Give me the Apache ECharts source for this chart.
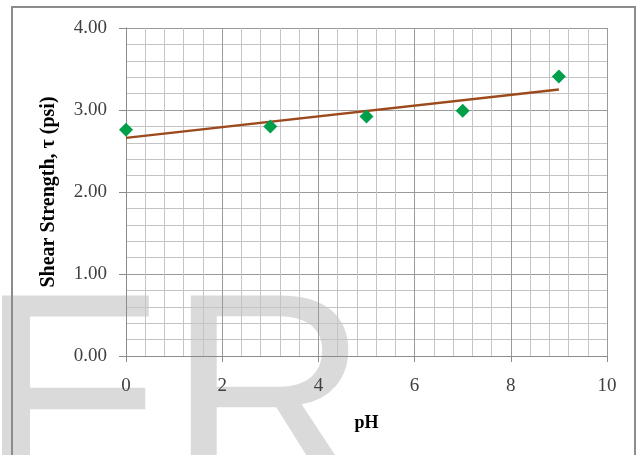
<!DOCTYPE html>
<html>
<head>
<meta charset="utf-8">
<script src="https://cdn.jsdelivr.net/npm/echarts@6/dist/echarts.min.js"></script>
<style>
html,body{margin:0;padding:0;background:#fff;}
#chart{width:641px;height:455px;}
</style>
</head>
<body>
<div id="chart"></div>
<script>
// Data
const phValues = [0, 3, 5, 7, 9];
const shearStrength = [2.76, 2.80, 2.92, 2.99, 3.41];
const trendPh = [0, 9];
const trendStrength = [2.66, 3.25];
const xTickValues = [0, 2, 4, 6, 8, 10];
const yTickLabels = ['0.00', '1.00', '2.00', '3.00', '4.00'];
const xAxisTitle = 'pH';
const yAxisTitle = 'Shear Strength, \u03c4 (psi)';
const watermarkLetters = ['F', 'R'];

const points = phValues.map((x, i) => [x, shearStrength[i]]);
const trend = trendPh.map((x, i) => [x, trendStrength[i]]);

const chart = echarts.init(document.getElementById('chart'), null, {renderer: 'canvas'});
const serif = '"Liberation Serif", "Times New Roman", serif';
const wmFont = '278px "Liberation Sans", Arial, sans-serif';
chart.setOption({
  animation: false,
  backgroundColor: '#ffffff',
  grid: {left: 126, right: 34, top: 28, bottom: 99, containLabel: false, outerBoundsMode: 'none'},
  xAxis: {
    type: 'value', min: 0, max: 10, interval: 2,
    name: xAxisTitle, nameLocation: 'middle', nameGap: 58,
    nameTextStyle: {fontFamily: serif, fontWeight: 'bold', fontSize: 18, color: '#000'},
    axisLine: {show: true, onZero: false, lineStyle: {color: '#8c8c8c', width: 1}},
    axisTick: {show: true, length: 6, lineStyle: {color: '#8c8c8c'}},
    minorTick: {show: false, splitNumber: 5},
    axisLabel: {fontFamily: serif, fontSize: 19, color: '#404040', margin: 21,
      formatter: v => String(xTickValues[xTickValues.indexOf(v)])},
    splitLine: {show: true, lineStyle: {color: '#9a9a9a', width: 1}},
    minorSplitLine: {show: true, lineStyle: {color: '#c4c4c4', width: 1}}
  },
  yAxis: {
    type: 'value', min: 0, max: 4, interval: 1,
    name: yAxisTitle, nameLocation: 'middle', nameGap: 67, nameRotate: 90,
    nameTextStyle: {fontFamily: serif, fontWeight: 'bold', fontSize: 20, color: '#000'},
    axisLine: {show: true, onZero: false, lineStyle: {color: '#8c8c8c', width: 1}},
    axisTick: {show: true, length: 7, lineStyle: {color: '#8c8c8c'}},
    minorTick: {show: false, splitNumber: 5},
    axisLabel: {fontFamily: serif, fontSize: 19, color: '#404040', margin: 19,
      formatter: v => yTickLabels[Math.round(v)]},
    splitLine: {show: true, lineStyle: {color: '#9a9a9a', width: 1}},
    minorSplitLine: {show: true, lineStyle: {color: '#c4c4c4', width: 1}}
  },
  series: [
    {
      type: 'line', data: trend, showSymbol: false, symbol: 'none',
      lineStyle: {color: '#9c4a1c', width: 2.5}, z: 3
    },
    {
      type: 'scatter', data: points, symbol: 'diamond', symbolSize: [14, 14],
      itemStyle: {color: '#00a04a', opacity: 1}, z: 4
    }
  ],
  graphic: [
    {type: 'text', z: -10, silent: true, x: -22.6, y: 410, scaleX: 1.08,
      style: {x: 0, y: 0, text: watermarkLetters[0], font: wmFont,
        fill: '#dadada', verticalAlign: 'middle', align: 'left'}},
    {type: 'text', z: -10, silent: true, x: 168, y: 410,
      style: {x: 0, y: 0, text: watermarkLetters[1], font: wmFont,
        fill: '#dadada', verticalAlign: 'middle', align: 'left'}},
    {type: 'rect', shape: {x: 12, y: 7, width: 623, height: 470},
      style: {fill: 'none', stroke: '#8c8c8c', lineWidth: 2}, z: 50, silent: true}
  ]
});
</script>
</body>
</html>
